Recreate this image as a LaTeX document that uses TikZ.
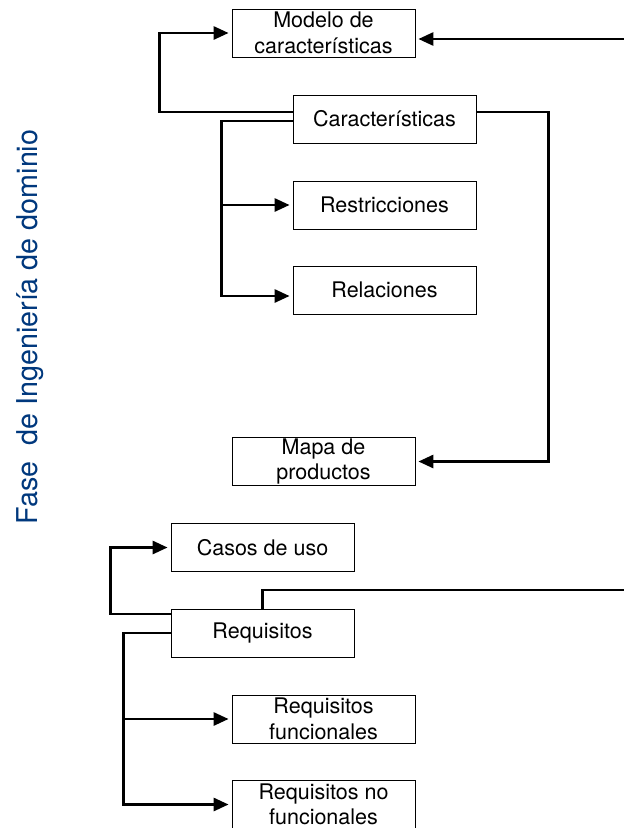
\documentclass[tikz,border=0pt]{standalone}
\usepackage{fontspec}
\setmainfont{TeX Gyre Heros}
\usetikzlibrary{arrows.meta,positioning,calc}
\definecolor{FaseBlue}{RGB}{0,56,125}
\tikzset{
  box/.style={draw=black,line width=0.8pt,fill=white,minimum width=183pt,
    minimum height=48pt,inner sep=0pt,align=center,
    font=\fontsize{21.5}{25.5}\selectfont},
  link/.style={line width=2.8pt,black},
  arrow/.style={link,-{Triangle[length=15pt,width=13pt]},shorten >=3pt}
}
\begin{document}
\begin{tikzpicture}[x=1pt,y=-1pt]
  \useasboundingbox (0,0) rectangle (624,828);

  % side label
  \node[rotate=90,text=FaseBlue,font=\fontsize{28.7}{34}\selectfont] (fase)
    at (30,327) {Fase~ de Ingeniería de dominio};

  % dominio
  \node[box] (modelo) at (323.5,33) {Modelo de\\características};
  \node[box] (carac) at (384.5,119) {Características};
  \node[box] (restr) at (384.5,205) {Restricciones};
  \node[box] (rel) at (384.5,290) {Relaciones};
  \node[box] (mapa) at (323.5,461.5) {Mapa de\\productos};

  % requisitos
  \node[box] (casos) at (262.5,547.5) {Casos de uso};
  \node[box] (req) at (262.5,633) {Requisitos};
  \node[box] (func) at (323.5,719) {Requisitos\\funcionales};
  \node[box] (nofunc) at (323.5,804.5) {Requisitos no\\funcionales};

  \coordinate (fromRight) at (624,39);
  \coordinate (toRight) at (624,590);

  \draw[arrow] (fromRight) -- (fromRight -| modelo.east);
  \draw[arrow] ([yshift=7pt]carac.west) -- ++(-133,0) |- (modelo.west);
  \draw[arrow] ([yshift=-2pt]carac.west) -- ++(-71,0) coordinate (trunkA)
    |- ([yshift=-6pt]rel.west);
  \draw[arrow] (trunkA |- restr.west) -- (restr.west);
  \draw[arrow] ([yshift=7pt]carac.east) -- ++(72,0) |- (mapa.east);

  \draw[arrow] ([yshift=19pt]req.west) -- ++(-60,0) |- (casos.west);
  \draw[arrow] (req.west) -- ++(-47,0) coordinate (trunkB) |- (nofunc.west);
  \draw[arrow] (trunkB |- func.west) -- (func.west);
  \draw[link] (req.north) |- (toRight);
\end{tikzpicture}
\end{document}
